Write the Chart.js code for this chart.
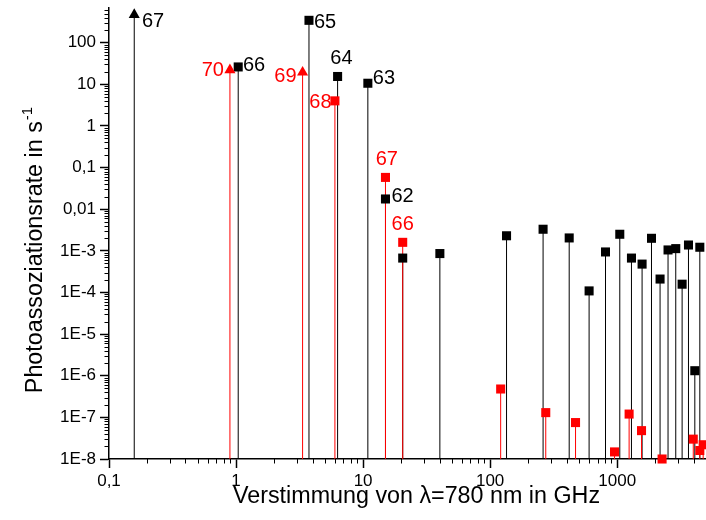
<!DOCTYPE html>
<html>
<head>
<meta charset="utf-8">
<title>Photoassoziationsrate</title>
<script src="https://cdn.jsdelivr.net/npm/chart.js@4/dist/chart.umd.min.js"></script>
<style>
  html, body { margin: 0; padding: 0; background: #fff; overflow: hidden; }
  canvas { display: block; }
</style>
</head>
<body>
<canvas id="chart" width="706" height="520"></canvas>
<script>
// Axis ranges
const freqMin = 0.1;
const freqMax = 5000;
const rateMin = 1e-8;   // stems start at the bottom of the rate axis
const rateMax = 680;

// Black series: detuning in GHz, rate in 1/s, marker type
const blackFreq = [0.158, 1.04, 3.75, 6.3, 10.9, 15.0, 20.5, 40.2, 134.6, 261, 419, 601,
                   809, 1048, 1295, 1570, 1862, 2175, 2513, 2890, 3243, 3640, 4083, 4470];
const blackRate = [470, 26.1, 344, 15.4, 10.6, 0.0176, 6.7e-4, 8.6e-4, 2.3e-3, 3.3e-3, 2.04e-3, 1.09e-4,
                   9.4e-4, 2.5e-3, 6.7e-4, 4.8e-4, 2.0e-3, 2.1e-4, 1.05e-3, 1.13e-3, 1.58e-4, 1.38e-3, 1.32e-6, 1.22e-3];
const blackShape = ['triangle', 'rect', 'rect', 'rect', 'rect', 'rect', 'rect', 'rect', 'rect', 'rect', 'rect', 'rect',
                    'rect', 'rect', 'rect', 'rect', 'rect', 'rect', 'rect', 'rect', 'rect', 'rect', 'rect', 'rect'];

// Red series
const redFreq = [0.895, 3.34, 6.0, 15.0, 20.5, 121, 274, 470, 953, 1241, 1554, 2256, 3970, 4470, 4750];
const redRate = [22.1, 19.4, 4.0, 0.058, 1.6e-3, 4.8e-7, 1.3e-7, 7.5e-8, 1.48e-8, 1.2e-7, 4.8e-8, 1.0e-8, 3.0e-8, 1.6e-8, 2.2e-8];
const redShape = ['triangle', 'triangle', 'rect', 'rect', 'rect', 'rect', 'rect', 'rect', 'rect', 'rect', 'rect', 'rect', 'rect', 'rect', 'rect'];

// Vibrational level numbers written next to some points
const blackLevels = ['67', '66', '65', '64', '63', '62'];
const redLevels = ['70', '69', '68', '67', '66'];

// Tick values and their printed labels
const xTickValues = [0.1, 1, 10, 100, 1000];
const xTickLabels = ['0,1', '1', '10', '100', '1000'];
const yTickValues = [1e-8, 1e-7, 1e-6, 1e-5, 1e-4, 1e-3, 1e-2, 0.1, 1, 10, 100];
const yTickLabels = ['1E-8', '1E-7', '1E-6', '1E-5', '1E-4', '1E-3', '0,01', '0,1', '1', '10', '100'];

// Axis titles
const xTitleText = 'Verstimmung von λ=780 nm in GHz';
const yTitleText = 'Photoassoziationsrate in s';
const yTitleExp = '-1';

// Where each level number sits relative to its marker
const levelPlacement = {
  black: [
    { align: 'left',   dx: 7.7, dy: 4.8 },
    { align: 'left',   dx: 4.7, dy: -2.7 },
    { align: 'left',   dx: 5.0, dy: 0 },
    { align: 'center', dx: 3.8, dy: -19.3 },
    { align: 'left',   dx: 5.0, dy: -6.5 },
    { align: 'left',   dx: 6.0, dy: -4 }
  ],
  red: [
    { align: 'right',  dx: -6.0, dy: -0.7 },
    { align: 'right',  dx: -6.0, dy: 2 },
    { align: 'right',  dx: -3.3, dy: 0 },
    { align: 'center', dx: 1.3, dy: -19.8 },
    { align: 'center', dx: 0, dy: -19.8 }
  ]
};

const FONT = "'Liberation Sans', Arial, sans-serif";
const BLACK = '#000000';
const RED = '#ff0000';

// Vertical drop lines from the bottom axis up to each value
function stemPoints(freq, rate) {
  const pts = [];
  freq.forEach((f, i) => {
    pts.push({ x: f, y: rateMin }, { x: f, y: rate[i] }, { x: f, y: null });
  });
  return pts;
}
function markerPoints(freq, rate) {
  return freq.map((f, i) => ({ x: f, y: rate[i] }));
}

// Short minor ticks (2..9 of each decade), pointing outwards
const minorTicks = {
  id: 'minorTicks',
  afterDraw(chart) {
    const { ctx, chartArea: a } = chart;
    const xs = chart.scales.x, ys = chart.scales.y;
    ctx.save();
    ctx.strokeStyle = BLACK;
    ctx.lineWidth = 1;
    ctx.beginPath();
    for (let e = -8; e <= 2; e++) {
      for (let k = 2; k <= 9; k++) {
        const v = k * Math.pow(10, e);
        if (v > rateMax) break;
        const py = Math.round(ys.getPixelForValue(v)) + 0.5;
        ctx.moveTo(a.left - 4.5, py);
        ctx.lineTo(a.left, py);
      }
    }
    for (let e = -1; e <= 3; e++) {
      for (let k = 2; k <= 9; k++) {
        const v = k * Math.pow(10, e);
        if (v > freqMax) break;
        const px = Math.round(xs.getPixelForValue(v)) + 0.5;
        ctx.moveTo(px, a.bottom);
        ctx.lineTo(px, a.bottom + 4.5);
      }
    }
    ctx.stroke();
    ctx.restore();
  }
};

// Level numbers beside the markers
const levelText = {
  id: 'levelText',
  afterDatasetsDraw(chart) {
    const ctx = chart.ctx;
    ctx.save();
    ctx.font = '20px ' + FONT;
    ctx.textBaseline = 'alphabetic';
    const draw = (dsIndex, texts, places, color) => {
      const meta = chart.getDatasetMeta(dsIndex);
      texts.forEach((t, i) => {
        const el = meta.data[i];
        const p = places[i];
        ctx.fillStyle = color;
        ctx.textAlign = p.align;
        ctx.fillText(t, el.x + p.dx, el.y + p.dy + 7.2);
      });
    };
    draw(2, blackLevels, levelPlacement.black, BLACK);
    draw(3, redLevels, levelPlacement.red, RED);
    ctx.restore();
  }
};

// Axis titles; the rate title carries a superscript exponent
const axisTitles = {
  id: 'axisTitles',
  afterDraw(chart) {
    const { ctx, chartArea: a } = chart;
    ctx.save();
    ctx.fillStyle = BLACK;

    // detuning title under the x axis
    ctx.font = '23.3px ' + FONT;
    ctx.textAlign = 'center';
    ctx.textBaseline = 'middle';
    ctx.fillText(xTitleText, (a.left + a.right) / 2 + 9, 497);

    // rotated rate title
    ctx.textBaseline = 'alphabetic';
    ctx.textAlign = 'left';
    ctx.font = '23.3px ' + FONT;
    const w1 = ctx.measureText(yTitleText).width;
    ctx.font = '15px ' + FONT;
    const w2 = ctx.measureText(yTitleExp).width;
    ctx.translate(42, 250);
    ctx.rotate(-Math.PI / 2);
    const start = -(w1 + w2 + 1) / 2;
    ctx.font = '23.3px ' + FONT;
    ctx.fillText(yTitleText, start, 0);
    ctx.font = '15px ' + FONT;
    ctx.fillText(yTitleExp, start + w1 + 1, -10);
    ctx.restore();
  }
};

const axisCommon = {
  grid: { display: true, drawOnChartArea: false, drawTicks: true, tickLength: 9, tickColor: BLACK, tickWidth: 1.5 },
  border: { display: true, color: BLACK, width: 1.5 }
};

new Chart(document.getElementById('chart'), {
  type: 'scatter',
  data: {
    datasets: [
      {
        label: 'black stems',
        data: stemPoints(blackFreq, blackRate),
        showLine: true, spanGaps: false,
        borderColor: BLACK, borderWidth: 1, pointRadius: 0,
        order: 3
      },
      {
        label: 'red stems',
        data: stemPoints(redFreq, redRate),
        showLine: true, spanGaps: false,
        borderColor: RED, borderWidth: 1, pointRadius: 0,
        order: 2
      },
      {
        label: 'black',
        data: markerPoints(blackFreq, blackRate),
        pointStyle: ctx => blackShape[ctx.dataIndex],
        pointRadius: 6.4, pointHoverRadius: 6.4,
        backgroundColor: BLACK, borderWidth: 0,
        clip: false, order: 1
      },
      {
        label: 'red',
        data: markerPoints(redFreq, redRate),
        pointStyle: ctx => redShape[ctx.dataIndex],
        pointRadius: 6.4, pointHoverRadius: 6.4,
        backgroundColor: RED, borderWidth: 0,
        clip: false, order: 0
      }
    ]
  },
  options: {
    responsive: false,
    animation: false,
    devicePixelRatio: 1,
    layout: { autoPadding: false, padding: { top: 8, left: 0, right: 0, bottom: 0 } },
    plugins: { legend: { display: false }, tooltip: { enabled: false } },
    scales: {
      x: {
        type: 'logarithmic',
        min: freqMin, max: freqMax,
        afterBuildTicks: s => { s.ticks = xTickValues.map(v => ({ value: v, major: true })); },
        afterFit: s => { s.height = 61; s.paddingLeft = 0; s.paddingRight = 0; },
        ticks: {
          callback: (v, i) => xTickLabels[i],
          font: { family: FONT, size: 17 }, color: BLACK,
          padding: 3, maxRotation: 0, autoSkip: false
        },
        title: { display: false },
        ...axisCommon
      },
      y: {
        type: 'logarithmic',
        min: rateMin, max: rateMax,
        afterBuildTicks: s => { s.ticks = yTickValues.map(v => ({ value: v, major: true })); },
        afterFit: s => { s.width = 109; s.paddingTop = 0; s.paddingBottom = 0; },
        ticks: {
          callback: (v, i) => yTickLabels[i],
          font: { family: FONT, size: 17 }, color: BLACK,
          padding: 4, autoSkip: false
        },
        title: { display: false },
        ...axisCommon
      }
    }
  },
  plugins: [minorTicks, levelText, axisTitles]
});
</script>
</body>
</html>
